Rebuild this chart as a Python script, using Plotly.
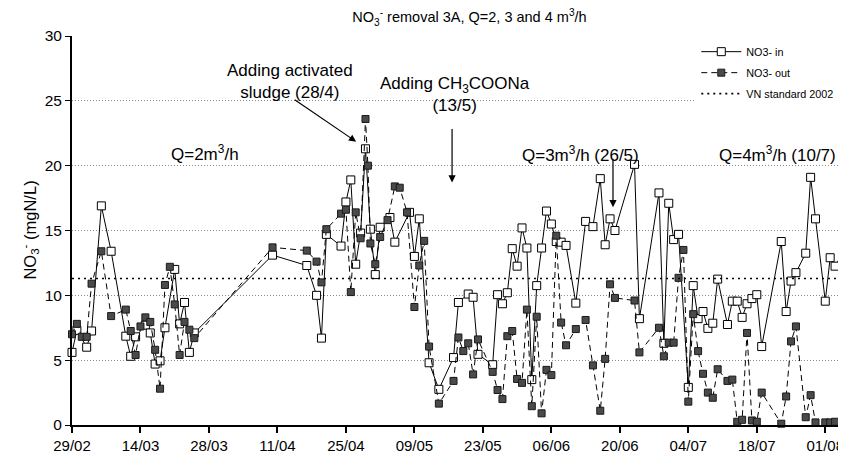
import pandas as pd
import plotly.graph_objects as go

# ---- data (days counted from 29/02/2008) ----
start_date = "2008-02-29"

in_days = [0, 1, 3, 4, 6, 8, 11, 12, 13, 15, 16, 17, 18, 19, 21, 22, 23, 24, 25,
           41, 48, 50, 51, 52, 55, 56, 57, 58, 59, 60, 61, 62, 63, 65, 66, 69, 70, 71,
           73, 75, 78, 79, 81, 82, 83, 86, 87, 88, 89, 90, 91, 92, 93, 94, 95, 96, 97,
           98, 99, 100, 101, 103, 105, 106.5, 108, 109, 110, 111, 115, 116, 120, 121,
           122, 123, 124, 126, 127, 128, 129, 130, 131, 132, 134, 135, 136, 137, 138,
           139, 140, 141, 145, 146, 147, 148, 150, 151, 152, 154, 155, 156, 157]
in_vals = [5.6, 7.3, 6.0, 7.25, 16.9, 13.4, 6.85, 5.3, 6.8, 7.7, 7.1, 4.7, 4.95, 7.5, 12.0, 7.8, 9.45, 5.6, 7.1,
           13.1, 12.3, 10.0, 6.7, 14.7, 13.8, 17.2, 18.9, 12.4, 14.8, 21.3, 15.1, 11.6, 15.25, 16.0, 14.1, 16.4, 13.0, 15.9,
           4.8, 2.75, 5.2, 9.45, 10.1, 9.85, 5.45, 4.65, 10.05, 9.35, 10.2, 13.6, 12.25, 15.2, 13.65, 3.5, 10.75, 13.65, 16.5,
           15.5, 14.15, 14.1, 13.85, 9.4, 15.7, 15.3, 19.0, 13.9, 15.9, 15.0, 20.1, 8.2, 17.9, 6.3,
           17.1, 14.3, 14.7, 2.9, 10.75, 8.2, 8.75, 7.45, 7.85, 11.25, 7.75, 9.55, 9.55, 8.3, 9.35,
           9.75, 10.05, 6.05, 14.15, 8.75, 11.1, 11.75, 13.25, 19.1, 15.9, 9.55, 12.9, 12.25, 12.9]

out_days = [0, 1, 2, 3, 4, 6, 8, 11, 12, 13, 14, 15, 16, 17, 18, 19, 20, 21, 22, 23, 24, 25,
            41, 48, 50, 51, 52, 55, 56, 57, 58, 59, 60, 60.5, 61, 62, 63, 64.5, 66, 67, 68.5, 70, 71, 72,
            73, 75, 78, 79, 80, 81, 82, 83, 86, 87, 88, 89, 90, 91, 92, 93, 94, 95, 96, 97, 98,
            99, 100, 101, 103, 105, 106.5, 108, 109, 110, 111, 115, 116, 120, 121, 122, 123, 124, 125,
            126, 127, 128, 129, 130, 131, 132, 134, 135, 136, 137, 138, 139, 140, 141, 145, 146, 147,
            148, 150, 151, 152, 154, 155, 156, 157]
out_vals = [7.0, 7.8, 6.8, 6.8, 10.9, 13.4, 8.4, 8.9, 7.25, 5.4, 7.6, 8.3, 7.95, 5.8, 2.8, 10.8, 12.2, 9.3, 5.4, 7.95, 7.35, 6.7,
            13.7, 13.45, 12.6, 11.0, 15.1, 16.3, 16.6, 10.25, 16.4, 14.4, 23.6, 20.0, 14.0, 12.4, 14.5, 15.8, 18.4, 18.3, 16.4, 9.1, 12.3, 14.2,
            6.05, 1.65, 3.4, 6.75, 5.7, 6.3, 3.9, 6.6, 4.1, 2.7, 2.0, 6.85, 7.25, 3.55, 3.25, 8.9, 1.45, 8.35, 0.9, 4.25, 3.85,
            14.6, 7.9, 6.15, 7.4, 8.1, 4.6, 1.1, 5.1, 10.85, 9.8, 9.6, 5.6, 7.5, 5.3, 6.35, 6.35, 11.35, 13.5,
            1.8, 8.55, 5.7, 3.95, 2.5, 2.1, 4.3, 3.4, 3.5, 0.25, 0.4, 7.1, 0.35, 0.25, 2.5, 0.1, 2.2, 6.45,
            7.6, 0.6, 2.3, 0.2, 0.2, 0.2, 0.25, 0.35]

vn_standard = 11.3
x_range_days = [0, 156.6]
tick_step_days = 14
y_ticks = [0, 5, 10, 15, 20, 25, 30]

base = pd.Timestamp(start_date)
def to_dates(days):
    return [base + pd.Timedelta(days=d) for d in days]

in_x = to_dates(in_days)
out_x = to_dates(out_days)
rng = to_dates(x_range_days)

FONT = "Liberation Sans, Arial, sans-serif"

fig = go.Figure()

fig.add_trace(go.Scatter(
    x=in_x, y=in_vals, name="NO3- in", mode="lines+markers", legendgroup="a",
    line=dict(color="black", width=1),
    marker=dict(symbol="square", size=8, color="white", line=dict(color="black", width=1)),
    cliponaxis=False))

fig.add_trace(go.Scatter(
    x=out_x, y=out_vals, name="NO3- out", mode="lines+markers", legendgroup="b",
    line=dict(color="black", width=1, dash="6px,4px"),
    marker=dict(symbol="square", size=7, color="#4a4a4a", line=dict(color="#1a1a1a", width=1)),
    cliponaxis=False))

fig.add_trace(go.Scatter(
    x=rng, y=[vn_standard, vn_standard], name="VN standard 2002", mode="lines", legendgroup="c",
    line=dict(color="black", width=1.6, dash="2px,4px")))

fig.update_xaxes(
    type="date", range=rng, tick0=start_date, dtick=tick_step_days * 86400000,
    tickformat="%d/%m", ticks="outside", ticklen=6, tickwidth=1.5, tickcolor="black",
    showline=True, linecolor="black", linewidth=2, showgrid=False, zeroline=False,
    automargin=False, ticklabeloverflow="allow",
    tickfont=dict(family=FONT, size=15, color="black"))

fig.update_yaxes(
    range=[0, 30], tickvals=y_ticks, ticks="outside", ticklen=5, tickcolor="black",
    showline=True, linecolor="black", linewidth=2,
    showgrid=True, gridcolor="#8c8c8c", griddash="1px,2px", gridwidth=1, zeroline=False,
    automargin=False,
    tickfont=dict(family=FONT, size=15.5, color="black"))

ann_font = dict(family=FONT, size=17, color="black")
d = lambda v: base + pd.Timedelta(days=v)
annotations = [
    dict(x=-0.073, y=0.5, xref="paper", yref="paper", text="NO<sub>3</sub><sup>-</sup> (mgN/L)",
         textangle=-90, showarrow=False, font=dict(family=FONT, size=16.5, color="black")),
    dict(x=d(27.2), y=21.0, text="Q=2m<sup>3</sup>/h", showarrow=False, font=ann_font),
    dict(x=d(44.6), y=26.5, text="Adding activated<br>sludge (28/4)", showarrow=False, font=ann_font),
    dict(x=d(58.1), y=21.85, text="", showarrow=True, arrowhead=2, arrowsize=1.2, arrowwidth=1.2,
         ax=-63, ay=-43, arrowcolor="black"),
    dict(x=d(78.3), y=25.5, text="Adding CH<sub>3</sub>COONa<br>(13/5)", showarrow=False, font=ann_font),
    dict(x=d(77.7), y=18.7, text="", showarrow=True, arrowhead=2, arrowsize=1.2, arrowwidth=1.2,
         ax=0, ay=-55, arrowcolor="black"),
    dict(x=d(103.9), y=20.9, text="Q=3m<sup>3</sup>/h (26/5)", showarrow=False, font=ann_font),
    dict(x=d(110.6), y=16.8, text="", showarrow=True, arrowhead=2, arrowsize=1.2, arrowwidth=1.2,
         ax=0, ay=-50, arrowcolor="black"),
    dict(x=d(144.2), y=20.9, text="Q=4m<sup>3</sup>/h (10/7)", showarrow=False, font=ann_font),
]

# the page places the figure 8 px in from the top-left corner of the window
fig.update_layout(
    width=830, height=447,
    margin=dict(l=64, r=0, t=28, b=30, autoexpand=False),
    paper_bgcolor="white", plot_bgcolor="white",
    title=dict(text="NO<sub>3</sub><sup>-</sup> removal 3A, Q=2, 3 and 4 m<sup>3</sup>/h",
               x=0.556, xanchor="center", y=0.979, yanchor="middle",
               font=dict(family=FONT, size=14.5, color="black")),
    legend=dict(x=0.815, y=0.997, xanchor="left", yanchor="top", bgcolor="white",
                font=dict(family=FONT, size=10.8, color="black"), tracegroupgap=2,
                itemwidth=40),
    annotations=annotations,
    showlegend=True,
)

fig.write_html("out.html")
